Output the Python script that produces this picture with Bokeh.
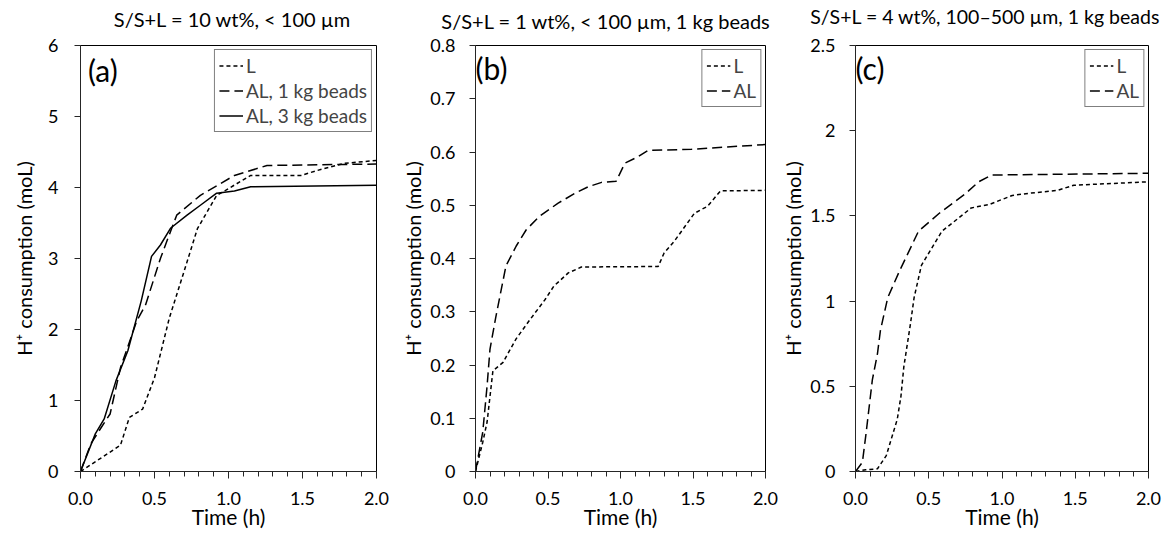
from bokeh.plotting import figure
from bokeh.models import Range1d, FixedTicker, Legend, LegendItem, Label, LinearAxis
from bokeh.layouts import row
from bokeh.embed import file_html
from bokeh.resources import INLINE

# ---------------- data ----------------
# Panel (a): S/S+L = 10 wt%, < 100 µm
a_L_t = [0, 0.27, 0.33, 0.42, 0.50, 0.60, 0.70, 0.79, 0.92, 0.98, 1.15, 1.49, 1.60, 1.78, 2.0]
a_L_h = [0, 0.37, 0.76, 0.88, 1.32, 2.16, 2.82, 3.42, 3.89, 3.96, 4.17, 4.17, 4.24, 4.34, 4.38]
a_AL1_t = [0, 0.07, 0.14, 0.20, 0.27, 0.38, 0.44, 0.54, 0.59, 0.65, 0.81, 1.04, 1.26, 1.60, 2.0]
a_AL1_h = [0, 0.39, 0.62, 0.81, 1.46, 2.12, 2.35, 3.00, 3.28, 3.61, 3.89, 4.17, 4.31, 4.32, 4.33]
a_AL3_t = [0, 0.10, 0.16, 0.24, 0.32, 0.41, 0.48, 0.54, 0.61, 0.72, 0.81, 0.92, 1.04, 1.15, 2.0]
a_AL3_h = [0, 0.53, 0.74, 1.28, 1.70, 2.40, 3.03, 3.19, 3.43, 3.61, 3.75, 3.92, 3.95, 4.01, 4.03]

# Panel (b): S/S+L = 1 wt%, < 100 µm, 1 kg beads
b_L_t = [0, 0.05, 0.08, 0.12, 0.19, 0.28, 0.37, 0.48, 0.54, 0.64, 0.73, 1.26, 1.30, 1.37, 1.51, 1.60, 1.69, 2.0]
b_L_h = [0, 0.055, 0.093, 0.189, 0.205, 0.249, 0.283, 0.323, 0.348, 0.373, 0.384, 0.385, 0.41, 0.432, 0.485, 0.498, 0.527, 0.528]
b_AL_t = [0, 0.05, 0.08, 0.10, 0.14, 0.21, 0.28, 0.35, 0.44, 0.57, 0.69, 0.78, 0.87, 0.97, 1.03, 1.12, 1.19, 1.49, 1.71, 2.0]
b_AL_h = [0, 0.074, 0.161, 0.23, 0.29, 0.386, 0.423, 0.454, 0.479, 0.504, 0.523, 0.535, 0.543, 0.545, 0.579, 0.591, 0.603, 0.605, 0.609, 0.614]

# Panel (c): S/S+L = 4 wt%, 100–500 µm, 1 kg beads
c_L_t = [0, 0.07, 0.15, 0.21, 0.285, 0.31, 0.33, 0.375, 0.40, 0.45, 0.59, 0.70, 0.79, 0.91, 1.07, 1.20, 1.38, 1.49, 2.0]
c_L_h = [0, 0.01, 0.016, 0.093, 0.306, 0.44, 0.615, 0.866, 1.02, 1.21, 1.41, 1.485, 1.547, 1.566, 1.62, 1.634, 1.65, 1.68, 1.70]
c_AL_t = [0, 0.047, 0.07, 0.115, 0.15, 0.17, 0.22, 0.30, 0.43, 0.57, 0.75, 0.84, 0.93, 2.0]
c_AL_h = [0, 0.054, 0.209, 0.538, 0.692, 0.827, 1.02, 1.176, 1.41, 1.514, 1.63, 1.70, 1.74, 1.75]

x_ticks = [0, 0.5, 1.0, 1.5, 2.0]
x_tick_labels = ["0.0", "0.5", "1.0", "1.5", "2.0"]
a_y_ticks = [0, 1, 2, 3, 4, 5, 6]
a_y_labels = ["0", "1", "2", "3", "4", "5", "6"]
b_y_ticks = [0, 0.1, 0.2, 0.3, 0.4, 0.5, 0.6, 0.7, 0.8]
b_y_labels = ["0", "0.1", "0.2", "0.3", "0.4", "0.5", "0.6", "0.7", "0.8"]
c_y_ticks = [0, 0.5, 1.0, 1.5, 2.0, 2.5]
c_y_labels = ["0", "0.5", "1", "1.5", "2", "2.5"]

titles = ["S/S+L = 10 wt%, < 100 µm",
          "S/S+L = 1 wt%,  < 100 µm, 1 kg beads",
          "S/S+L = 4 wt%, 100–500 µm, 1 kg beads"]
panel_tags = ["(a)", "(b)", "(c)"]
y_label = "H⁺ consumption (moL)"
x_label = "Time (h)"

FONT = "Lato"
AX = "#262626"


def make_panel(width, height, bl, br, bt, bb, ymax, yticks, ylabels, y_std, y_lab_std, x_lab_std,
               title, title_x, title_std, title_size, tag, tag_xy):
    p = figure(width=width, height=height, x_range=Range1d(0, 2), y_range=Range1d(0, ymax),
               output_backend="svg", toolbar_location=None,
               min_border_left=bl, min_border_right=br, min_border_top=bt, min_border_bottom=bb)
    p.xgrid.visible = False
    p.ygrid.visible = False
    p.outline_line_color = "black"
    p.outline_line_width = 1
    p.background_fill_color = "white"

    p.xaxis.ticker = FixedTicker(ticks=x_ticks, minor_ticks=[i / 10 for i in range(21)])
    p.xaxis.major_label_overrides = {t: l for t, l in zip(x_ticks, x_tick_labels)}
    p.yaxis.ticker = FixedTicker(ticks=yticks)
    p.yaxis.major_label_overrides = {t: l for t, l in zip(yticks, ylabels)}

    for ax in (p.xaxis, p.yaxis):
        ax.axis_line_color = AX
        ax.major_tick_line_color = AX
        ax.minor_tick_line_color = AX
        ax.major_tick_in = 0
        ax.minor_tick_in = 0
        ax.major_label_text_font = FONT
        ax.major_label_text_font_size = "18px"
        ax.major_label_text_color = "black"
        ax.axis_label_text_font = FONT
        ax.axis_label_text_font_style = "normal"
        ax.axis_label_text_color = "black"
    p.xaxis.major_tick_out = 7
    p.xaxis.minor_tick_out = 5
    p.xaxis.major_label_standoff = 13
    p.xaxis.axis_label = x_label
    p.xaxis.axis_label_text_font_size = "21px"
    p.xaxis.axis_label_standoff = x_lab_std
    p.yaxis.major_tick_out = 6
    p.yaxis.minor_tick_line_color = None
    p.yaxis.major_label_standoff = y_std
    p.yaxis.axis_label = y_label
    p.yaxis.axis_label_text_font_size = "20px"
    p.yaxis.axis_label_standoff = y_lab_std

    # panel title, drawn as the single label of a bare axis above the frame
    tax = LinearAxis(ticker=FixedTicker(ticks=[title_x]),
                     major_label_overrides={title_x: title},
                     axis_line_color=None, major_tick_line_color=None, minor_tick_line_color=None,
                     major_tick_out=0, minor_tick_out=0, major_tick_in=0, minor_tick_in=0,
                     major_label_standoff=title_std, major_label_text_font=FONT,
                     major_label_text_font_size=title_size, major_label_text_color="black")
    p.add_layout(tax, "above")

    p.add_layout(Label(x=tag_xy[0], y=tag_xy[1], text=tag, text_font=FONT, text_font_size="30px",
                       text_baseline="middle", text_color="black"))
    return p


def add_legend(p, items):
    leg = Legend(items=items, location="top_right", border_line_color="black", border_line_width=1,
                 padding=4, spacing=2, margin=4, label_text_font=FONT, label_text_font_size="19px",
                 glyph_width=24, glyph_height=23, label_height=23, label_standoff=3,
                 background_fill_alpha=1.0)
    p.add_layout(leg)


L_DASH = "4 3"
AL_DASH = "10 5"
LW = 1.5

pa = make_panel(398, 534, 80, 22, 43, 63, 6, a_y_ticks, a_y_labels, 16, 9, -4,
                titles[0], 1.027, 15, "20px", panel_tags[0], (0.05, 5.65))
r1 = pa.line(a_L_t, a_L_h, line_color="black", line_width=LW, line_dash=L_DASH)
r2 = pa.line(a_AL1_t, a_AL1_h, line_color="black", line_width=LW, line_dash=AL_DASH)
r3 = pa.line(a_AL3_t, a_AL3_h, line_color="black", line_width=LW)
add_legend(pa, [LegendItem(label="L", renderers=[r1]),
                LegendItem(label="AL, 1 kg beads", renderers=[r2]),
                LegendItem(label="AL, 3 kg beads", renderers=[r3])])

pb = make_panel(380, 534, 75, 13, 45, 61, 0.8, b_y_ticks, b_y_labels, 14, 2, -4,
                titles[1], 0.918, 13, "20px", panel_tags[1], (0.0, 0.757))
s1 = pb.line(b_L_t, b_L_h, line_color="black", line_width=LW, line_dash=L_DASH)
s2 = pb.line(b_AL_t, b_AL_h, line_color="black", line_width=LW, line_dash=AL_DASH)
add_legend(pb, [LegendItem(label="L", renderers=[s1]), LegendItem(label="AL", renderers=[s2])])

pc = make_panel(385, 534, 75, 15, 45, 58, 2.5, c_y_ticks, c_y_labels, 14, 2, -4,
                titles[2], 0.929, 18, "19.5px", panel_tags[2], (0.0, 2.37))
t1 = pc.line(c_L_t, c_L_h, line_color="black", line_width=LW, line_dash=L_DASH)
t2 = pc.line(c_AL_t, c_AL_h, line_color="black", line_width=LW, line_dash=AL_DASH)
add_legend(pc, [LegendItem(label="L", renderers=[t1]), LegendItem(label="AL", renderers=[t2])])

layout = row(pa, pb, pc, spacing=0)
open("out.html", "w").write(file_html(layout, INLINE))
